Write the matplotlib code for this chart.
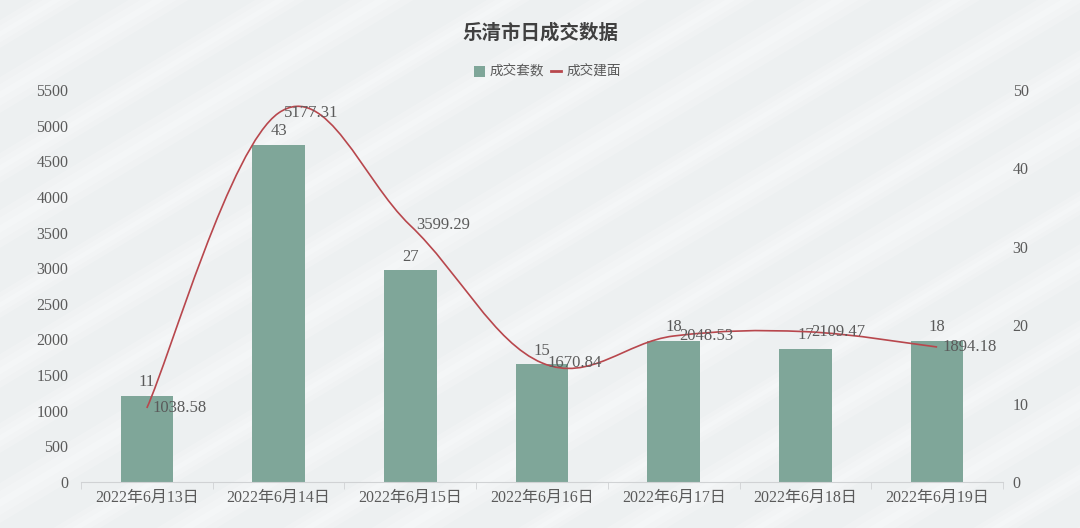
import matplotlib
matplotlib.use("Agg")
import matplotlib.pyplot as plt
from matplotlib.path import Path
from matplotlib.patches import PathPatch, Polygon, Rectangle
from matplotlib.lines import Line2D
import numpy as np

plt.rcParams['font.family'] = ['Liberation Serif', 'Noto Sans CJK SC', 'DejaVu Sans']

categories = ["2022年6月13日", "2022年6月14日", "2022年6月15日", "2022年6月16日",
              "2022年6月17日", "2022年6月18日", "2022年6月19日"]
deals = [11, 43, 27, 15, 18, 17, 18]                       # 成交套数 (right axis)
area = [1038.58, 5177.31, 3599.29, 1670.84, 2048.53, 2109.47, 1894.18]  # 成交建面 (left axis)
left_ticks = list(range(0, 5501, 500))
right_ticks = list(range(0, 51, 10))

title = "乐清市日成交数据"
bar_name = "成交套数"
line_name = "成交建面"

BAR_C = "#7fa699"
LINE_C = "#b8474d"
TXT = "#5a5a5a"

W, H = 1080, 528
fig = plt.figure(figsize=(W / 100, H / 100), dpi=100)
fig.patch.set_facecolor("#edf0f1")

# decorative diagonal background stripes
bg = fig.add_axes([0, 0, 1, 1], zorder=-10)
bg.set_xlim(0, W)
bg.set_ylim(0, H)
bg.axis("off")
slope = 0.6
stripe_offsets = [-680, -610, -545, -470, -400, -335, -265, -200, -130, -60, 5, 75, 140, 210, 280, 345, 415, 480]
stripe_widths = [34, 26, 40, 30, 36, 24, 42, 30, 36, 28, 40, 30, 34, 26, 38, 30, 36, 28]
for c, w in zip(stripe_offsets, stripe_widths):
    for k, a in ((0, 0.18), (0.2, 0.2), (0.4, 0.22)):
        d = w * k
        xs = [0, W, W, 0]
        ys = [c + d, c + d + slope * W, c + slope * W + w - d, c + w - d]
        bg.add_patch(Polygon(list(zip(xs, ys)), closed=True, facecolor="white",
                             alpha=a, edgecolor="none"))

ax = fig.add_axes([81 / W, 1 - 482 / H, (1003 - 81) / W, (482 - 90) / H])
ax2 = ax.twinx()
ax.set_zorder(ax2.get_zorder() + 1)
ax.patch.set_visible(False)

x = np.arange(len(categories))

# bars on right axis
ax2.bar(x, deals, width=0.4, color=BAR_C, zorder=2)
ax2.set_ylim(0, 50)
ax2.set_yticks(right_ticks)
for xi, v in zip(x, deals):
    ax2.annotate(str(v), (xi, v), xytext=(0, 4), textcoords="offset points",
                 ha="center", va="bottom", fontsize=12, color=TXT)

# smooth line on left axis (Catmull-Rom rendered as cubic Beziers through data points)
ax.set_xlim(-0.5, len(categories) - 0.5)
ax.set_ylim(0, 5500)
pts = np.column_stack([x, area]).astype(float)
verts = [tuple(pts[0])]
codes = [Path.MOVETO]
t = 0.55
for i in range(len(pts) - 1):
    p0 = pts[i - 1] if i > 0 else pts[i]
    p1 = pts[i]
    p2 = pts[i + 1]
    p3 = pts[i + 2] if i + 2 < len(pts) else pts[i + 1]
    c1 = p1 + (p2 - p0) * t / 3
    c2 = p2 - (p3 - p1) * t / 3
    verts += [tuple(c1), tuple(c2), tuple(p2)]
    codes += [Path.CURVE4] * 3
ax.add_patch(PathPatch(Path(verts, codes), facecolor="none", edgecolor=LINE_C, lw=1.2, zorder=3))
for xi, v in zip(x, area):
    ax.annotate(f"{v:.2f}", (xi, v), xytext=(4, 0), textcoords="offset points",
                ha="left", va="center", fontsize=12, color=TXT, zorder=4)

ax.set_yticks(left_ticks)
ax.set_xticks(x)
ax.set_xticklabels(categories)
ax.set_xticks(np.arange(-0.5, len(categories), 1), minor=True)

for a in (ax, ax2):
    for s in ("top", "right", "left", "bottom"):
        a.spines[s].set_visible(False)
    a.tick_params(axis="y", length=0, labelsize=11.5, labelcolor=TXT, pad=9)
ax.spines["bottom"].set_visible(True)
ax.spines["bottom"].set_color("#d0d2d4")
ax.tick_params(axis="x", which="major", length=0, labelsize=11.5, labelcolor=TXT, pad=6)
ax.tick_params(axis="x", which="minor", length=5, color="#d0d2d4")
ax2.tick_params(axis="y", pad=7)

fig.text(0.5, 1 - 33 / H, title, ha="center", va="center", fontsize=14, color="#404040",
         fontweight="bold")

# legend
ly = 1 - 71 / H
fig.patches.append(Rectangle((474 / W, ly - 6 / H), 11 / W, 11 / H,
                             transform=fig.transFigure, facecolor=BAR_C,
                             edgecolor="none", figure=fig))
fig.text(490 / W, ly, bar_name, ha="left", va="center", fontsize=9.8, color=TXT)
fig.lines.append(Line2D([551 / W, 561 / W], [ly, ly], transform=fig.transFigure,
                        color=LINE_C, lw=2, figure=fig))
fig.text(567 / W, ly, line_name, ha="left", va="center", fontsize=9.8, color=TXT)

fig.savefig("out.png", dpi=100, facecolor=fig.get_facecolor())
